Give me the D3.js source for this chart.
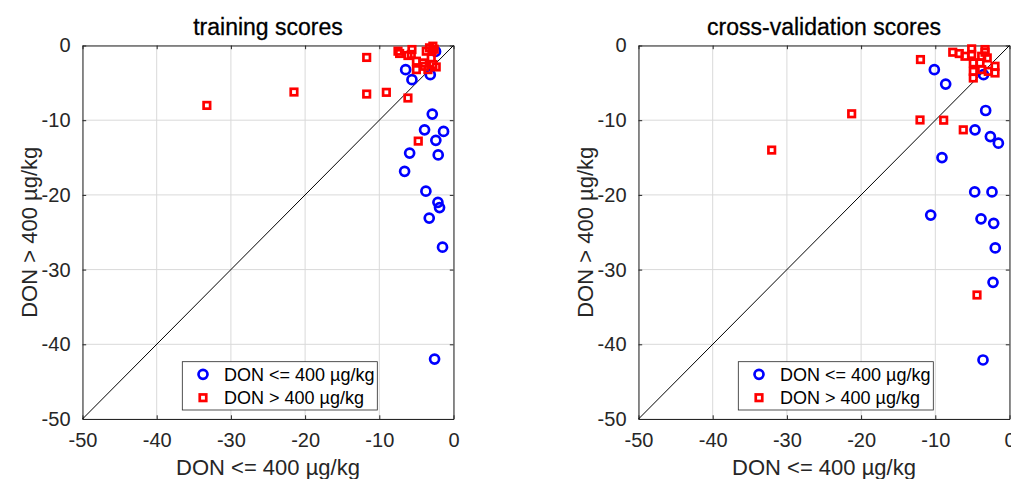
<!DOCTYPE html>
<html>
<head>
<meta charset="utf-8">
<script src="https://cdn.jsdelivr.net/npm/d3@7"></script>
<style>
  html, body { margin: 0; padding: 0; background: #fff; }
  svg { display: block; }
  text { font-family: "Liberation Sans", Arial, Helvetica, sans-serif; }
</style>
</head>
<body>
<svg id="chart" width="1011" height="479"></svg>
<script>
// ---- data ----
const axisTicks = [-50, -40, -30, -20, -10, 0];
const tickLabels = ["-50", "-40", "-30", "-20", "-10", "0"];
const panelTitles = ["training scores", "cross-validation scores"];
const xLabel = "DON <= 400 µg/kg";
const yLabel = "DON > 400 µg/kg";
const legendLabels = ["DON <= 400 µg/kg", "DON > 400 µg/kg"];

const trainLowX = [-2.42, -6.45, -5.6, -3.13, -2.86, -3.9, -1.34, -2.38, -5.91, -2.06, -6.59, -3.72, -2.1, -1.88, -3.27, -1.48, -2.55];
const trainLowY = [-0.8, -3.23, -4.57, -3.9, -9.18, -11.29, -11.5, -12.7, -14.4, -14.65, -16.85, -19.5, -21.0, -21.7, -23.1, -27.0, -41.98];
const trainHighX = [-11.7, -7.48, -7.26, -5.6, -5.69, -6.14, -5.0, -5.0, -4.13, -3.67, -3.23, -2.78, -3.0, -2.78, -2.33, -3.9, -3.45, -2.6, -2.9, -6.14, -9.05, -11.7, -21.5, -33.24, -4.75];
const trainHighY = [-1.6, -0.76, -1.07, -0.54, -1.2, -1.34, -2.1, -3.23, -2.33, -0.76, -0.31, -0.09, -1.66, -2.55, -2.87, -2.78, -3.23, -0.5, -0.8, -7.03, -6.27, -6.5, -6.23, -8.02, -12.8];

const cvLowX = [-10.13, -8.6, -3.5, -3.21, -4.65, -2.58, -1.5, -9.1, -4.69, -2.36, -10.62, -3.84, -2.13, -1.92, -2.22, -3.57];
const cvLowY = [-3.23, -5.16, -3.9, -8.7, -11.29, -12.19, -13.08, -15.0, -19.6, -19.6, -22.7, -23.2, -23.8, -27.1, -31.7, -42.1];
const cvHighX = [-12.0, -7.65, -6.77, -6.0, -5.1, -5.1, -4.88, -4.88, -4.88, -3.97, -3.75, -3.3, -3.3, -3.0, -2.86, -1.95, -1.95, -3.75, -12.06, -8.87, -6.23, -21.27, -32.05, -4.38];
const cvHighY = [-1.88, -0.9, -1.08, -1.44, -0.45, -1.2, -2.33, -3.46, -4.35, -2.33, -1.44, -0.54, -0.9, -1.66, -3.46, -2.78, -3.68, -3.23, -9.97, -10.0, -11.29, -9.14, -14.0, -33.4];

// ---- layout ----
const svg = d3.select("#chart");
const axisColor = "#262626";
const gridColor = "#d9d9d9";
const blue = "#0000ff", red = "#ff0000";
const fmt = d => tickLabels[axisTicks.indexOf(d)];

const panels = [
  { left: 82.5, title: panelTitles[0], low: [trainLowX, trainLowY], high: [trainHighX, trainHighY] },
  { left: 638.5, title: panelTitles[1], low: [cvLowX, cvLowY], high: [cvHighX, cvHighY] }
];
const plotTop = 45.5, plotBottom = 419, plotW = 371;

panels.forEach(p => {
  const x = d3.scaleLinear().domain([-50, 0]).range([p.left, p.left + plotW]);
  const y = d3.scaleLinear().domain([-50, 0]).range([plotBottom, plotTop]);
  const g = svg.append("g");

  // grid
  g.append("g").selectAll("line").data(axisTicks).join("line")
    .attr("x1", d => x(d)).attr("x2", d => x(d)).attr("y1", plotTop).attr("y2", plotBottom)
    .attr("stroke", gridColor).attr("stroke-width", 1);
  g.append("g").selectAll("line").data(axisTicks).join("line")
    .attr("y1", d => y(d)).attr("y2", d => y(d)).attr("x1", x(-50)).attr("x2", x(0))
    .attr("stroke", gridColor).attr("stroke-width", 1);

  // axes (ticks inward, mirrored on top/right)
  const tl = 3.7;
  const xb = d3.axisBottom(x).tickValues(axisTicks).tickSizeInner(-tl).tickSizeOuter(0).tickPadding(14).tickFormat(fmt);
  const xt = d3.axisTop(x).tickValues(axisTicks).tickSizeInner(-tl).tickSizeOuter(0).tickFormat("");
  const yl = d3.axisLeft(y).tickValues(axisTicks).tickSizeInner(-tl).tickSizeOuter(0).tickPadding(12).tickFormat(fmt);
  const yr = d3.axisRight(y).tickValues(axisTicks).tickSizeInner(-tl).tickSizeOuter(0).tickFormat("");

  const styleAxis = sel => {
    sel.selectAll("path").attr("stroke", axisColor).attr("stroke-width", 1);
    sel.selectAll("line").attr("stroke", axisColor).attr("stroke-width", 1);
    sel.selectAll("text").attr("fill", axisColor).style("font-size", "20px")
      .style("font-family", '"Liberation Sans", Arial, sans-serif');
  };
  g.append("g").attr("transform", `translate(0,${plotBottom})`).call(xb).call(styleAxis);
  g.append("g").attr("transform", `translate(0,${plotTop})`).call(xt).call(styleAxis);
  g.append("g").attr("transform", `translate(${p.left},0)`).call(yl).call(styleAxis);
  g.append("g").attr("transform", `translate(${p.left + plotW},0)`).call(yr).call(styleAxis);

  // diagonal y = x
  g.append("line")
    .attr("x1", x(-50)).attr("y1", y(-50)).attr("x2", x(0)).attr("y2", y(0))
    .attr("stroke", "#000").attr("stroke-width", 1);

  // points: blue circles then red squares
  const lowPts = p.low[0].map((v, i) => [v, p.low[1][i]]);
  const highPts = p.high[0].map((v, i) => [v, p.high[1][i]]);
  g.append("g").selectAll("circle").data(lowPts).join("circle")
    .attr("cx", d => x(d[0])).attr("cy", d => y(d[1])).attr("r", 4.5)
    .attr("fill", "none").attr("stroke", blue).attr("stroke-width", 2.7);
  const s = 6.5;
  g.append("g").selectAll("rect").data(highPts).join("rect")
    .attr("x", d => x(d[0]) - s / 2).attr("y", d => y(d[1]) - s / 2)
    .attr("width", s).attr("height", s)
    .attr("fill", "none").attr("stroke", red).attr("stroke-width", 2.7);

  // title
  g.append("text").attr("x", p.left + plotW / 2).attr("y", 35)
    .attr("text-anchor", "middle").attr("fill", "#000").style("font-size", "23px")
    .style("stroke", "#000").style("stroke-width", 0.3)
    .text(p.title);
  // x label
  g.append("text").attr("x", p.left + plotW / 2).attr("y", 475)
    .attr("text-anchor", "middle").attr("fill", axisColor).style("font-size", "22px")
    .text(xLabel);
  // y label
  g.append("text")
    .attr("transform", `translate(${p.left - 46},${(plotTop + plotBottom) / 2}) rotate(-90)`)
    .attr("text-anchor", "middle").attr("fill", axisColor).style("font-size", "22px")
    .text(yLabel);

  // legend
  const lx = p.left + 99.8, ly = 361.7, lw = 195, lh = 48.3;
  const lg = g.append("g");
  lg.append("rect").attr("x", lx).attr("y", ly).attr("width", lw).attr("height", lh)
    .attr("fill", "#fff").attr("stroke", axisColor).attr("stroke-width", 0.8);
  lg.append("circle").attr("cx", lx + 20.7).attr("cy", ly + 12.6).attr("r", 4.5)
    .attr("fill", "none").attr("stroke", blue).attr("stroke-width", 2.7);
  lg.append("rect").attr("x", lx + 20.7 - s / 2).attr("y", ly + 36 - s / 2).attr("width", s).attr("height", s)
    .attr("fill", "none").attr("stroke", red).attr("stroke-width", 2.7);
  legendLabels.forEach((t, i) => {
    lg.append("text").attr("x", lx + 41.7).attr("y", ly + 12.6 + i * 23.4)
      .attr("dy", "0.35em").attr("fill", "#000").style("font-size", "18px").text(t);
  });
});
</script>
</body>
</html>
